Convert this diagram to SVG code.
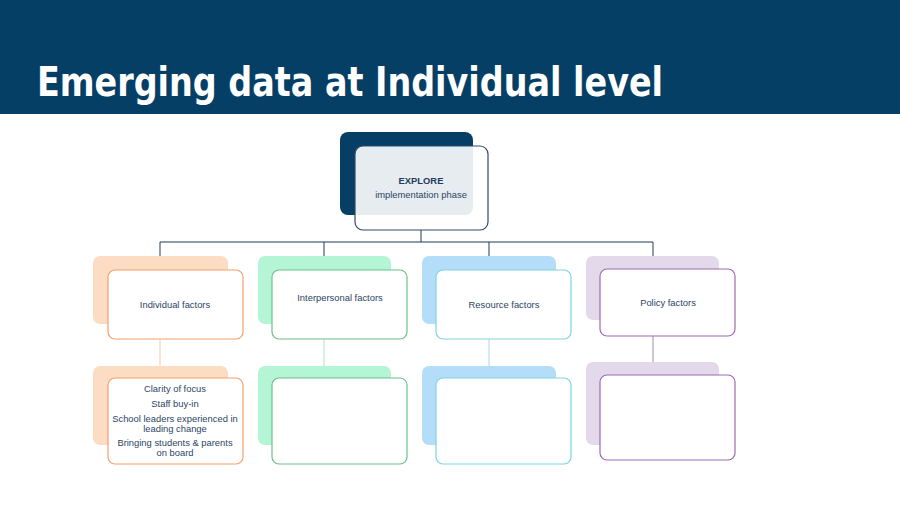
<svg xmlns="http://www.w3.org/2000/svg" width="900" height="505" viewBox="0 0 900 505">
<style>
.t{font-family:"Liberation Sans",Arial,sans-serif;font-size:9.4px;fill:#2B4564;text-anchor:middle}
.front{fill:#fff;stroke-width:1.2}
.conn{stroke:#1F3A5A;stroke-width:1;fill:none}
</style>
<rect x="0" y="0" width="900" height="505" fill="#fff"/>
<rect x="0" y="0" width="900" height="114" fill="#063F66"/>
<text x="37" y="96" font-family="DejaVu Sans,Verdana,sans-serif" font-weight="bold" font-size="40" fill="#fff" textLength="626" lengthAdjust="spacingAndGlyphs">Emerging data at Individual level</text>

<g id="connectors">
<path class="conn" d="M421 230V242M160 242H653M160 242V258M324 242V258M489 242V258M653 242V258"/>
<line x1="160" y1="339" x2="160" y2="366" stroke="#F8C9A8" stroke-width="1"/>
<line x1="324" y1="339" x2="324" y2="366" stroke="#A8E6C6" stroke-width="1"/>
<line x1="489" y1="339" x2="489" y2="366" stroke="#A6D8EE" stroke-width="1"/>
<line x1="653" y1="336" x2="653" y2="362" stroke="#9A8FA8" stroke-width="1"/>
</g>

<g id="explore">
<rect x="340" y="132" width="133" height="83" rx="8" fill="#063F66"/>
<rect x="355" y="146" width="133" height="84" rx="8" fill="#fff" fill-opacity="0.9" stroke="#2E4A6B" stroke-width="1.2"/>
<text class="t" x="421" y="184" font-weight="bold" style="fill:#1F3A5A">EXPLORE</text>
<text class="t" x="421" y="198">implementation phase</text>
</g>

<g id="individual">
<rect x="93" y="256" width="135" height="68" rx="7" fill="#FDDCC4"/>
<rect class="front" x="108" y="270" width="135" height="69" rx="7" stroke="#F4A06B"/>
<text class="t" x="175" y="308">Individual factors</text>
</g>
<g id="interpersonal">
<rect x="258" y="256" width="133" height="68" rx="7" fill="#B4F5D6"/>
<rect class="front" x="272" y="270" width="135" height="69" rx="7" stroke="#6CC08B"/>
<text class="t" x="340" y="301">Interpersonal factors</text>
</g>
<g id="resource">
<rect x="422" y="256" width="134" height="68" rx="7" fill="#B3DDF8"/>
<rect class="front" x="436" y="270" width="135" height="69" rx="7" stroke="#7DD4E0"/>
<text class="t" x="504" y="308">Resource factors</text>
</g>
<g id="policy">
<rect x="586" y="256" width="133" height="64" rx="7" fill="#E3D9EA"/>
<rect class="front" x="600" y="269" width="135" height="67" rx="7" stroke="#9B6BB5"/>
<text class="t" x="668" y="306">Policy factors</text>
</g>

<g id="individual-detail">
<rect x="93" y="366" width="135" height="79" rx="7" fill="#FDDCC4"/>
<rect class="front" x="108" y="378" width="135" height="86" rx="7" stroke="#F4A06B"/>
<text class="t" x="175" y="392">Clarity of focus</text>
<text class="t" x="175" y="407">Staff buy-in</text>
<text class="t" x="175" y="422">School leaders experienced in</text>
<text class="t" x="175" y="432">leading change</text>
<text class="t" x="175" y="446">Bringing students &amp; parents</text>
<text class="t" x="175" y="456">on board</text>
</g>
<g id="interpersonal-detail">
<rect x="258" y="366" width="133" height="79" rx="7" fill="#B4F5D6"/>
<rect class="front" x="272" y="378" width="135" height="86" rx="7" stroke="#6CC08B"/>
</g>
<g id="resource-detail">
<rect x="422" y="366" width="134" height="79" rx="7" fill="#B3DDF8"/>
<rect class="front" x="436" y="378" width="135" height="86" rx="7" stroke="#7DD4E0"/>
</g>
<g id="policy-detail">
<rect x="586" y="362" width="133" height="83" rx="7" fill="#E3D9EA"/>
<rect class="front" x="600" y="375" width="135" height="85" rx="7" stroke="#9B6BB5"/>
</g>
</svg>
